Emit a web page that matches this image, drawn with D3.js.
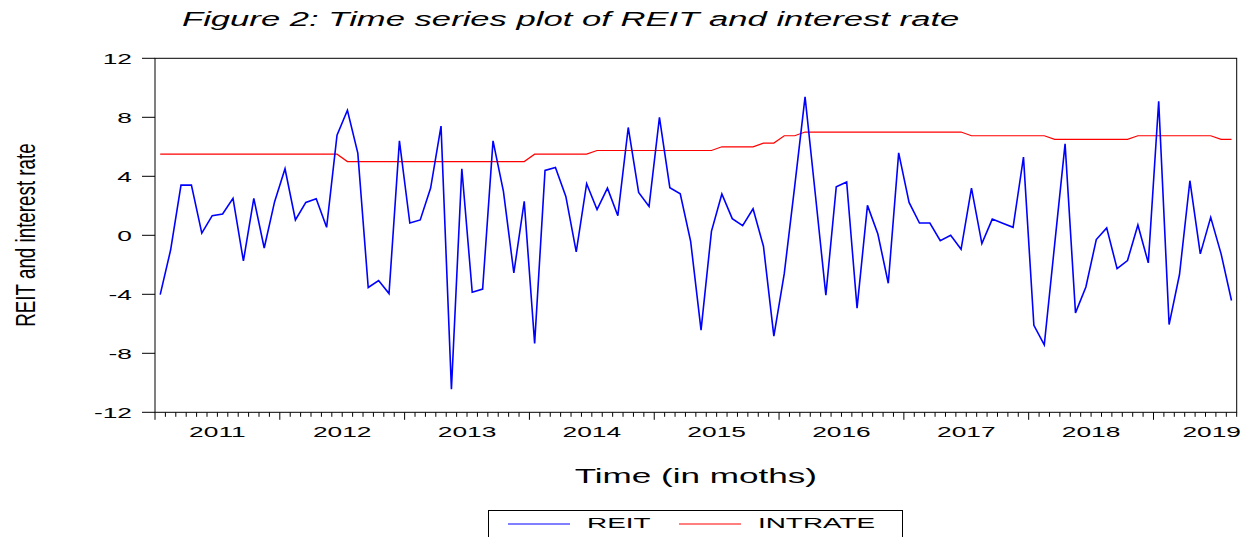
<!DOCTYPE html>
<html>
<head>
<meta charset="utf-8">
<script src="https://cdn.jsdelivr.net/npm/d3@7"></script>
<style>
  body { margin: 0; background: #fff; }
  text { font-family: "Liberation Sans", Arial, sans-serif; fill: #000; }
</style>
</head>
<body>
<div class="chart-container"></div>
<script>
// --------------------------------------------------------
// DATA (monthly, Jan 2011 - Aug 2019)
// --------------------------------------------------------
const reit = [
  -4.02, -1.0, 3.4, 3.4, 0.15, 1.33, 1.44, 2.5, -1.74, 2.5, -0.86, 2.28,
  4.51, 1.04, 2.23, 2.48, 0.54, 6.79, 8.48, 5.57, -3.54, -3.07, -3.95, 6.4,
  0.83, 1.04, 3.2, 7.4, -10.44, 4.51, -3.86, -3.65, 6.4, 2.98, -2.55, 2.3,
  -7.33, 4.4, 4.6, 2.64, -1.13, 3.5, 1.74, 3.2, 1.33, 7.31, 2.91, 1.96,
  7.99, 3.23, 2.82, -0.41, -6.43, 0.27, 2.8, 1.13, 0.65, 1.8, -0.74, -6.84,
  -2.6, 3.3, 9.38, 2.7, -4.06, 3.29, 3.61, -4.94, 2.03, 0.09, -3.25, 5.59,
  2.23, 0.83, 0.83, -0.36, 0.0, -0.95, 3.2, -0.56, 1.1, 0.82, 0.54, 5.3,
  -6.1, -7.43, -0.6, 6.2, -5.26, -3.5, -0.29, 0.5, -2.26, -1.71, 0.7, -1.87,
  9.09, -6.05, -2.66, 3.7, -1.26, 1.22, -1.26, -4.42
];

const intrate = [
  5.5, 5.5, 5.5, 5.5, 5.5, 5.5, 5.5, 5.5, 5.5, 5.5, 5.5, 5.5,
  5.5, 5.5, 5.5, 5.5, 5.5, 5.5, 5.0, 5.0, 5.0, 5.0, 5.0, 5.0,
  5.0, 5.0, 5.0, 5.0, 5.0, 5.0, 5.0, 5.0, 5.0, 5.0, 5.0, 5.0,
  5.5, 5.5, 5.5, 5.5, 5.5, 5.5, 5.75, 5.75, 5.75, 5.75, 5.75, 5.75,
  5.75, 5.75, 5.75, 5.75, 5.75, 5.75, 6.0, 6.0, 6.0, 6.0, 6.25, 6.25,
  6.75, 6.75, 7.0, 7.0, 7.0, 7.0, 7.0, 7.0, 7.0, 7.0, 7.0, 7.0,
  7.0, 7.0, 7.0, 7.0, 7.0, 7.0, 6.75, 6.75, 6.75, 6.75, 6.75, 6.75,
  6.75, 6.75, 6.5, 6.5, 6.5, 6.5, 6.5, 6.5, 6.5, 6.5, 6.75, 6.75,
  6.75, 6.75, 6.75, 6.75, 6.75, 6.75, 6.5, 6.5
];

const years = ["2011", "2012", "2013", "2014", "2015", "2016", "2017", "2018", "2019"];
const yTicks = [12, 8, 4, 0, -4, -8, -12];
const seriesNames = ["REIT", "INTRATE"];
const seriesColors = ["#0000ff", "#ff0000"];

// --------------------------------------------------------
// LAYOUT
// --------------------------------------------------------
const width = 1259;
const height = 537;
const plot = { left: 155, right: 1236.7, top: 58.3, bottom: 412.3 };
const stretch = 1.7; // text in the source is stretched horizontally

const svg = d3
  .select(".chart-container")
  .append("svg")
  .attr("width", width)
  .attr("height", height);

const x = d3
  .scaleLinear()
  .domain([-0.5, reit.length - 0.5])
  .range([plot.left, plot.right]);

const y = d3.scaleLinear().domain([-12, 12]).range([plot.bottom, plot.top]);

// helper: stretched text
function stretchedText(px, py, str, size, sx, anchor) {
  return svg
    .append("text")
    .attr("transform", `translate(${px},${py}) scale(${sx},1)`)
    .attr("text-anchor", anchor || "start")
    .style("font-size", size + "px")
    .text(str);
}

// title
stretchedText(182, 26, "Figure 2: Time series plot of REIT and interest rate", 20.5, 1.69)
  .style("font-style", "italic");

// frame
svg
  .append("rect")
  .attr("x", plot.left)
  .attr("y", plot.top)
  .attr("width", plot.right - plot.left)
  .attr("height", plot.bottom - plot.top)
  .attr("fill", "none")
  .attr("stroke", "#000")
  .attr("stroke-width", 1);

// y axis ticks + labels
yTicks.forEach((v) => {
  svg
    .append("line")
    .attr("x1", plot.left - 13)
    .attr("x2", plot.left)
    .attr("y1", y(v))
    .attr("y2", y(v))
    .attr("stroke", "#000");
  stretchedText(132, y(v) + 5.5, String(v), 15.5, stretch, "end");
});

// x axis: month ticks, year ticks longer
d3.range(0, reit.length + 1).forEach((m) => {
  const major = m % 12 === 0;
  svg
    .append("line")
    .attr("x1", x(m - 0.5))
    .attr("x2", x(m - 0.5))
    .attr("y1", plot.bottom)
    .attr("y2", plot.bottom + (major ? 7.5 : 4.5))
    .attr("stroke", "#000");
});

years.forEach((yr, i) => {
  let cx = x(i * 12 + 5.5);
  cx = Math.min(cx, plot.right - 25);
  stretchedText(cx, 437, yr, 15.5, stretch, "middle");
});

// axis titles
stretchedText((plot.left + plot.right) / 2 + 0, 483, "Time (in moths)", 19.5, 1.8, "middle");

svg
  .append("text")
  .attr("transform", "translate(25,235) scale(1.5,1) rotate(-90)")
  .attr("text-anchor", "middle")
  .attr("dy", "0.36em")
  .style("font-size", "18.8px")
  .text("REIT and interest rate");

// --------------------------------------------------------
// LINES
// --------------------------------------------------------
const line = d3
  .line()
  .x((d, i) => x(i))
  .y((d) => y(d));

svg
  .append("path")
  .datum(intrate)
  .attr("fill", "none")
  .attr("stroke", seriesColors[1])
  .attr("stroke-width", 1.2)
  .attr("d", line);

svg
  .append("path")
  .datum(reit)
  .attr("fill", "none")
  .attr("stroke", seriesColors[0])
  .attr("stroke-width", 1.6)
  .attr("stroke-linejoin", "miter")
  .attr("d", line);

// --------------------------------------------------------
// LEGEND
// --------------------------------------------------------
svg
  .append("rect")
  .attr("x", 488.5)
  .attr("y", 510.5)
  .attr("width", 414)
  .attr("height", 40)
  .attr("fill", "none")
  .attr("stroke", "#000");

const legendItems = [
  { x1: 508, x2: 570, tx: 587 },
  { x1: 679, x2: 741, tx: 758 }
];
legendItems.forEach((d, i) => {
  svg
    .append("line")
    .attr("x1", d.x1)
    .attr("x2", d.x2)
    .attr("y1", 524)
    .attr("y2", 524)
    .attr("stroke", seriesColors[i])
    .attr("stroke-width", 1.2);
  stretchedText(d.tx, 527.5, seriesNames[i], 15.5, 1.8);
});
</script>
</body>
</html>
